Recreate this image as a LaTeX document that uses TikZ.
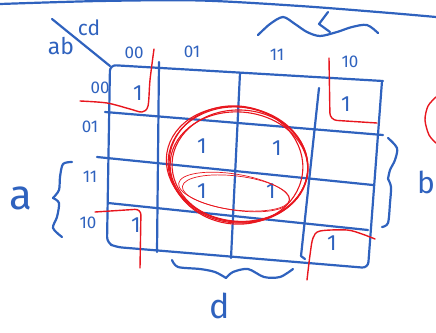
\documentclass[tikz,border=0pt]{standalone}
\usepackage{fontspec}
\setmainfont{Fira Sans}
\definecolor{ink}{RGB}{47,98,190}
\definecolor{pen}{RGB}{232,22,30}
\begin{document}
\begin{tikzpicture}[x=1pt,y=-1pt,
  blueline/.style={draw=ink,line width=2.2pt,line cap=round,line join=round},
  redline/.style={draw=pen,line width=1.4pt,line cap=round,line join=round},
  thinred/.style={draw=pen,line width=0.7pt},
  lbl/.style={text=ink,inner sep=0pt,font=\fontsize{17}{17}\selectfont},
  one/.style={text=ink,inner sep=0pt,font=\fontsize{22}{22}\selectfont},
  big/.style={text=ink,inner sep=0pt,font=\fontsize{42}{42}\selectfont}]
\useasboundingbox (0,0) rectangle (436,332);
% top stroke
\draw[blueline] plot[smooth] coordinates {(0,4) (100,1) (200,0.5) (300,6) (390,13) (436,17)};
% diagonal
\draw[blueline] (52,19) -- (110,66);
\node[lbl,font=\fontsize{21}{21}\selectfont] (cd) at (89,28) {cd};
\node[lbl,font=\fontsize{23}{23}\selectfont] (ab) at (61,46) {ab};
% grid outline
\draw[blueline,rounded corners=6] (383,81) -- (110,65) -- (107,243) -- (116,247) -- (368,268) -- (382,81);
% row lines
\draw[blueline] (105,112) -- (383,135);
\draw[blueline] (97,157) -- (373,185);
\draw[blueline] (108,203) -- (368,230);
% column lines
\draw[blueline] (159,62) -- (157,252);
\draw[blueline] (240,73) -- (231,258);
\draw[blueline] (319,88) -- (301,256) -- (305,259);
% column headers
\node[lbl] (c00) at (134,53) {00};
\node[lbl] (c01) at (192,52) {01};
\node[lbl] (c11) at (277,55) {11};
\node[lbl] (c10) at (350,62) {10};
% row headers
\node[lbl] (r00) at (100,88) {00};
\node[lbl] (r01) at (90,127) {01};
\node[lbl] (r11) at (90,177) {11};
\node[lbl] (r10) at (88,223) {10};
% ones
\node[one] (m0) at (138,93) {1};
\node[one] (m2) at (346,104) {1};
\node[one] (m5) at (202,146) {1};
\node[one] (m7) at (277,148) {1};
\node[one] (m13) at (202,191) {1};
\node[one] (m15) at (271,191) {1};
\node[one] (m8) at (136,225) {1};
\node[one] (m10) at (332,243) {1};
% braces
\draw[blueline] plot[smooth] coordinates {(258,35) (270,24) (283,17) (295,24) (307,32) (320,36) (337,32) (352,27) (367,25) (378,33)};
\draw[blueline] (328,12) -- (319,24) -- (330,32);
\draw[blueline] plot[smooth] coordinates {(72,162) (63,164) (60,177) (59,190) (53,198)};
\draw[blueline] plot[smooth] coordinates {(53,198) (59,203) (57,217) (53,228) (62,237)};
\draw[blueline] plot[smooth] coordinates {(388,138) (397,148) (395,160) (390,170) (388,179)};
\draw[blueline] plot[smooth] coordinates {(388,179) (391,187) (390,203) (388,223) (382,227)};
\draw[blueline] plot[smooth] coordinates {(172,260) (178,267) (200,269) (215,272) (226,278)};
\draw[blueline] plot[smooth] coordinates {(226,278) (233,272) (248,269) (264,277) (280,277) (293,269)};
% big letters
\node[big] (va) at (21,198) {a};
\node[big,font=\fontsize{30}{30}\selectfont] (vb) at (426,182) {b};
\node[big,font=\fontsize{34}{34}\selectfont] (vd) at (220,306) {d};
% red groupings
\draw[redline] plot[smooth,tension=0.5] coordinates {(80,101) (107,103) (130,109) (142,112) (148,106) (150,80) (154,49)};
\draw[redline,rounded corners=7] (329,58) -- (330,120) -- (377,123);
\draw[redline,rounded corners=6] (95,212) -- (141,209) -- (140,268);
\draw[redline] plot[smooth,tension=0.5] coordinates {(307,280) (310,255) (313,238) (320,231) (347,230) (362,234) (375,239)};
\draw[redline] plot[smooth] coordinates {(436,97) (428,106) (425,120) (429,135) (436,143)};
% big circle, several strokes
\draw[redline,line width=1.1pt,rotate around={-6:(238,165)}] (238,165) ellipse (70 and 58);
\draw[redline,line width=1.1pt,rotate around={-3:(240,166)}] (240,166) ellipse (68 and 56);
\draw[redline,line width=1.1pt,rotate around={-9:(237,164)}] (237,164) ellipse (71 and 57);
\draw[redline,line width=1.1pt,rotate around={-5:(239,167)}] (239,167) ellipse (69 and 55);
\draw[redline,line width=1.1pt,rotate around={-8:(236,165)}] (236,165) ellipse (67 and 59);
% inner ellipse
\draw[thinred,rotate around={-9:(234,192)}] (234,192) ellipse (56 and 18);
\draw[thinred,rotate around={-7:(236,193)}] (236,193) ellipse (54 and 17);
\end{tikzpicture}
\end{document}
